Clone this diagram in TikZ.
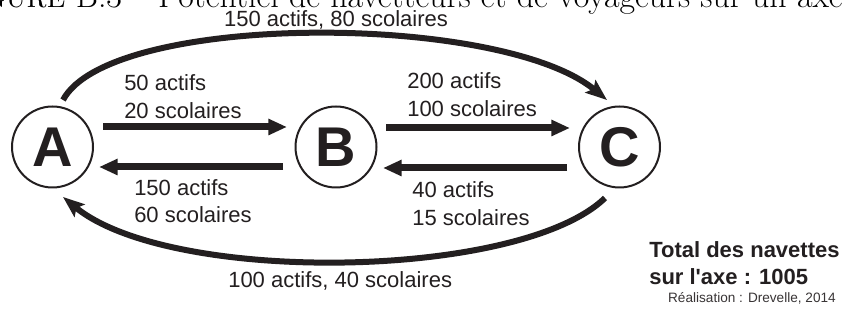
\documentclass[tikz,border=0pt]{standalone}
\usepackage{fontspec}
\newfontfamily\arial{Liberation Sans}
\usetikzlibrary{arrows.meta,calc}
\definecolor{ink}{RGB}{35,31,32}
\tikzset{
  place/.style={circle, draw=ink, line width=1.5pt, minimum size=60.75pt, inner sep=0pt,
    text=ink, font=\arial\bfseries\fontsize{42}{42}\selectfont},
  flow/.style={draw=ink, line width=5.25pt, -{Triangle[length=14pt,width=11.5pt]}},
  bigflow/.style={draw=ink, line width=4.5pt, -{Stealth[length=16pt,width=12pt,inset=3pt]}},
  lab/.style={anchor=base west, inner sep=0pt, text=ink, font=\arial\fontsize{16.5}{19}\selectfont},
  total/.style={anchor=base west, inner sep=0pt, text=ink, font=\arial\bfseries\fontsize{16.5}{19}\selectfont},
  credit/.style={anchor=base east, inner sep=0pt, text=ink!90, font=\arial\fontsize{10.2}{12}\selectfont},
  captiontext/.style={anchor=base east, inner sep=0pt, text=black, font=\fontsize{25.4}{30}\selectfont}
}
\begin{document}
\begin{tikzpicture}[x=0.75pt,y=-0.75pt]
\useasboundingbox (0,0) rectangle (844,323);
\clip (0,0) rectangle (844,323);
\fill[white] (0,0) rectangle (844,323);

\node[captiontext] (cap) at (843,8) {\textsc{Figure} B.3 – Potentiel de navetteurs et de voyageurs sur un axe};

\node[place] (A) at (52.5,147) {A};
\node[place] (B) at (336,147) {B};
\node[place] (C) at (619.5,147) {C};

% straight flows
\draw[flow] ($(A)+(50.5,-20)$) -- ($(B)+(-49,-20)$);
\draw[flow] ($(B)+(-53,20)$) -- ($(A)+(46.5,20)$);
\draw[flow] ($(B)+(50,-19)$) -- ($(C)+(-49.5,-19)$);
\draw[flow] ($(C)+(-52.5,21)$) -- ($(B)+(47,21)$);

% long flows
\draw[bigflow] ($(A)+(10.5,-47)$) .. controls ($(A)+(57.5,-135)$) and ($(C)+(-119.5,-135)$) .. ($(C)+(-12.5,-47)$);
\draw[bigflow] ($(C)+(-14.5,51)$) .. controls ($(C)+(-99.5,133)$) and ($(A)+(117.5,138)$) .. ($(A)+(10.5,50)$);

% labels
\node[lab, anchor=base] (lt) at (336,27) {150 actifs, 80 scolaires};
\node[lab] (lab1) at (124,91) {50 actifs};
\node[lab] (lab2) at (124,119) {20 scolaires};
\node[lab] (lbc1) at (407,89) {200 actifs};
\node[lab] (lbc2) at (407,117) {100 scolaires};
\node[lab] (lba1) at (134,196) {150 actifs};
\node[lab] (lba2) at (134,223) {60 scolaires};
\node[lab] (lcb1) at (412,198) {40 actifs};
\node[lab] (lcb2) at (412,226) {15 scolaires};
\node[lab] (lb) at (228,288) {100 actifs, 40 scolaires};

\node[total] (tot1) at (649,258) {Total des navettes};
\node[total] (tot2) at (649,285) {sur l'axe : 1005};
\node[credit] (real) at (836,303) {Réalisation : Drevelle, 2014};
\end{tikzpicture}
\end{document}
